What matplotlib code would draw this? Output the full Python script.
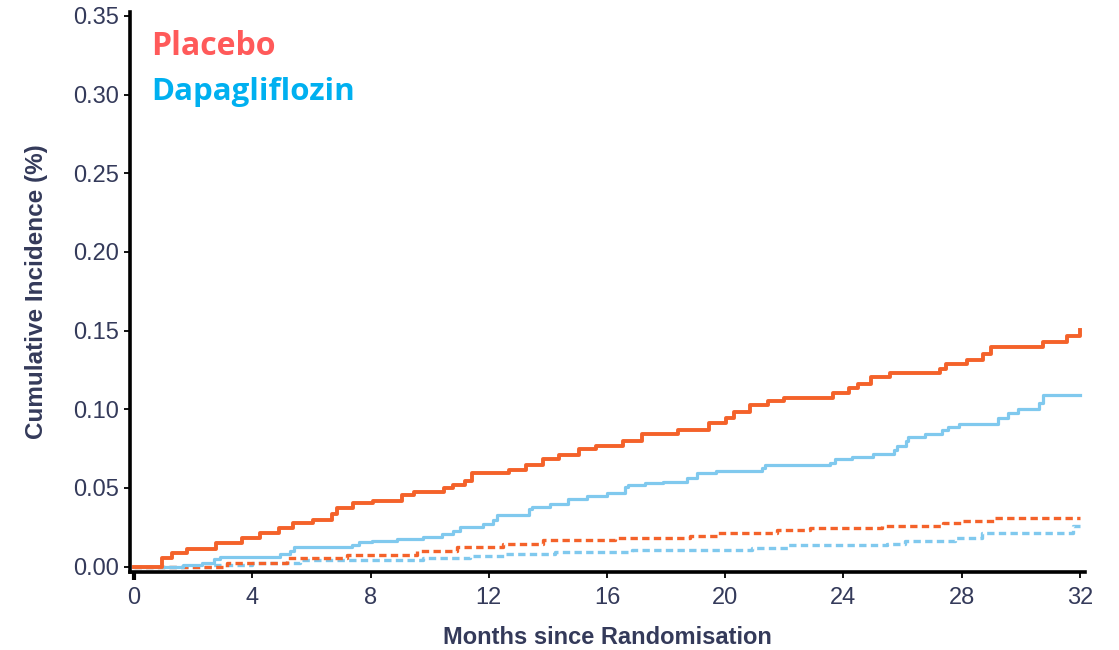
import matplotlib
matplotlib.use("Agg")
import matplotlib.pyplot as plt

# Event times (months) and cumulative incidence after each step
placebo_t = [0, 0.94, 1.27, 1.78, 2.77, 3.64, 4.26, 4.92, 5.37, 6.07, 6.69, 6.88, 7.42,
             8.08, 9.06, 9.47, 10.47, 10.80, 11.20, 11.42, 12.70, 13.26, 13.82, 14.39,
             15.06, 15.63, 16.55, 17.17, 18.41, 19.46, 20.03, 20.30, 20.84, 21.46, 21.99,
             23.64, 24.20, 24.48, 24.92, 25.57, 27.27, 27.47, 28.17, 28.73, 28.98, 30.76,
             31.55, 32.0]
placebo_y = [0, 0.0053, 0.0085, 0.011, 0.0149, 0.018, 0.0216, 0.0248, 0.028, 0.0297,
             0.0333, 0.0375, 0.0403, 0.0417, 0.0453, 0.0472, 0.0498, 0.0519, 0.0545,
             0.0593, 0.0614, 0.0648, 0.0682, 0.071, 0.0746, 0.0765, 0.0799, 0.0843,
             0.0868, 0.0915, 0.0947, 0.0985, 0.1027, 0.1055, 0.1072, 0.1102, 0.1133,
             0.1161, 0.1203, 0.1229, 0.1256, 0.1286, 0.1313, 0.1351, 0.1398, 0.143,
             0.1466, 0.1504]

dapa_t = [0, 1.67, 2.29, 2.71, 2.91, 4.94, 5.28, 5.41, 7.36, 7.62, 8.04, 8.89, 9.79,
          10.41, 10.80, 11.03, 11.82, 12.15, 12.27, 13.37, 13.48, 14.07, 14.69, 15.31,
          15.99, 16.61, 16.72, 17.29, 17.90, 18.72, 19.04, 19.69, 21.23, 21.35, 23.55,
          23.71, 24.28, 25.01, 25.71, 25.82, 26.12, 26.19, 26.76, 27.32, 27.55, 27.92,
          29.24, 29.58, 29.92, 30.63, 30.76, 32.0]
dapa_y = [0, 0.001, 0.0026, 0.0047, 0.0064, 0.0081, 0.0102, 0.0127, 0.0138, 0.0155,
          0.0165, 0.0176, 0.0191, 0.0208, 0.0229, 0.025, 0.0269, 0.0297, 0.0328, 0.0365,
          0.0377, 0.0398, 0.0428, 0.0449, 0.047, 0.0504, 0.0519, 0.053, 0.054, 0.0562,
          0.0593, 0.061, 0.0629, 0.0646, 0.0661, 0.0684, 0.0699, 0.0716, 0.0741, 0.0769,
          0.0801, 0.0826, 0.0843, 0.0868, 0.0889, 0.0907, 0.0943, 0.0975, 0.1002,
          0.1038, 0.1091, 0.1091]

placebo2_t = [0, 3.14, 5.17, 7.20, 9.56, 10.92, 12.49, 13.85, 16.27, 18.81, 19.71,
              21.74, 22.87, 25.29, 27.38, 28.06, 29.13, 32.0]
placebo2_y = [0, 0.0026, 0.0053, 0.0074, 0.0102, 0.0127, 0.0144, 0.017, 0.018, 0.0197,
              0.0216, 0.0233, 0.0246, 0.026, 0.028, 0.0292, 0.0311, 0.0311]

dapa2_t = [0, 2.68, 3.98, 5.62, 9.79, 11.37, 12.55, 14.24, 16.84, 20.90, 22.13, 25.46,
           26.08, 27.77, 28.68, 31.78, 32.0]
dapa2_y = [0, 0.001, 0.0026, 0.0043, 0.0053, 0.0068, 0.008, 0.0091, 0.0106, 0.0121,
           0.0136, 0.0144, 0.0165, 0.018, 0.0216, 0.026, 0.026]

x_ticks = [0, 4, 8, 12, 16, 20, 24, 28, 32]
y_ticks = [0.00, 0.05, 0.10, 0.15, 0.20, 0.25, 0.30, 0.35]

ORANGE = "#f4622a"
BLUE = "#80c9ee"
NAVY = "#343a5a"

fig = plt.figure(figsize=(11.19, 6.5), dpi=100)
ax = fig.add_axes([0.1162, 0.12, 0.8534, 0.8615])

ax.step(dapa2_t, dapa2_y, where="post", color=BLUE, lw=2.4, dashes=(2.2, 1.3))
ax.step(placebo2_t, placebo2_y, where="post", color=ORANGE, lw=2.4, dashes=(2.2, 1.3))
ax.step(dapa_t, dapa_y, where="post", color=BLUE, lw=2.3)
ax.step(placebo_t, placebo_y, where="post", color=ORANGE, lw=2.8)

ax.set_xlim(-0.135, 32.17)
ax.set_ylim(-0.0034, 0.3525)
ax.set_xticks(x_ticks)
ax.set_xticklabels([str(v) for v in x_ticks], fontsize=17, family="Liberation Sans")
ax.set_yticks(y_ticks)
ax.set_yticklabels([f"{v:.2f}" for v in y_ticks], fontsize=17, family="Liberation Sans")

for side in ("top", "right"):
    ax.spines[side].set_visible(False)
for side in ("left", "bottom"):
    ax.spines[side].set_linewidth(2.6)
    ax.spines[side].set_color("black")

ax.tick_params(axis="both", direction="out", length=4, width=1.3, color="black",
               labelcolor=NAVY)
ax.tick_params(axis="x", pad=7)
ax.tick_params(axis="y", pad=4)
# heavier tick at the time origin
first = ax.xaxis.get_major_ticks()[0]
first.tick1line.set_markeredgewidth(3.0)
first.tick1line.set_markersize(6)

ax.set_xlabel("Months since Randomisation", fontsize=17, fontweight="bold",
              color=NAVY, family="Liberation Sans", labelpad=12)
ax.set_ylabel("Cumulative Incidence (%)", fontsize=17.5, fontweight="bold",
              color=NAVY, family="Liberation Sans", labelpad=18)

fig.text(0.135, 0.9154, "Placebo", fontsize=23, fontweight="bold", color="#ff5a5a",
         family="Open Sans", va="baseline", ha="left")
fig.text(0.135, 0.846, "Dapagliflozin", fontsize=22.5, fontweight="bold", color="#00b0f0",
         family="Open Sans", va="baseline", ha="left")

fig.savefig("out.png", dpi=100)
